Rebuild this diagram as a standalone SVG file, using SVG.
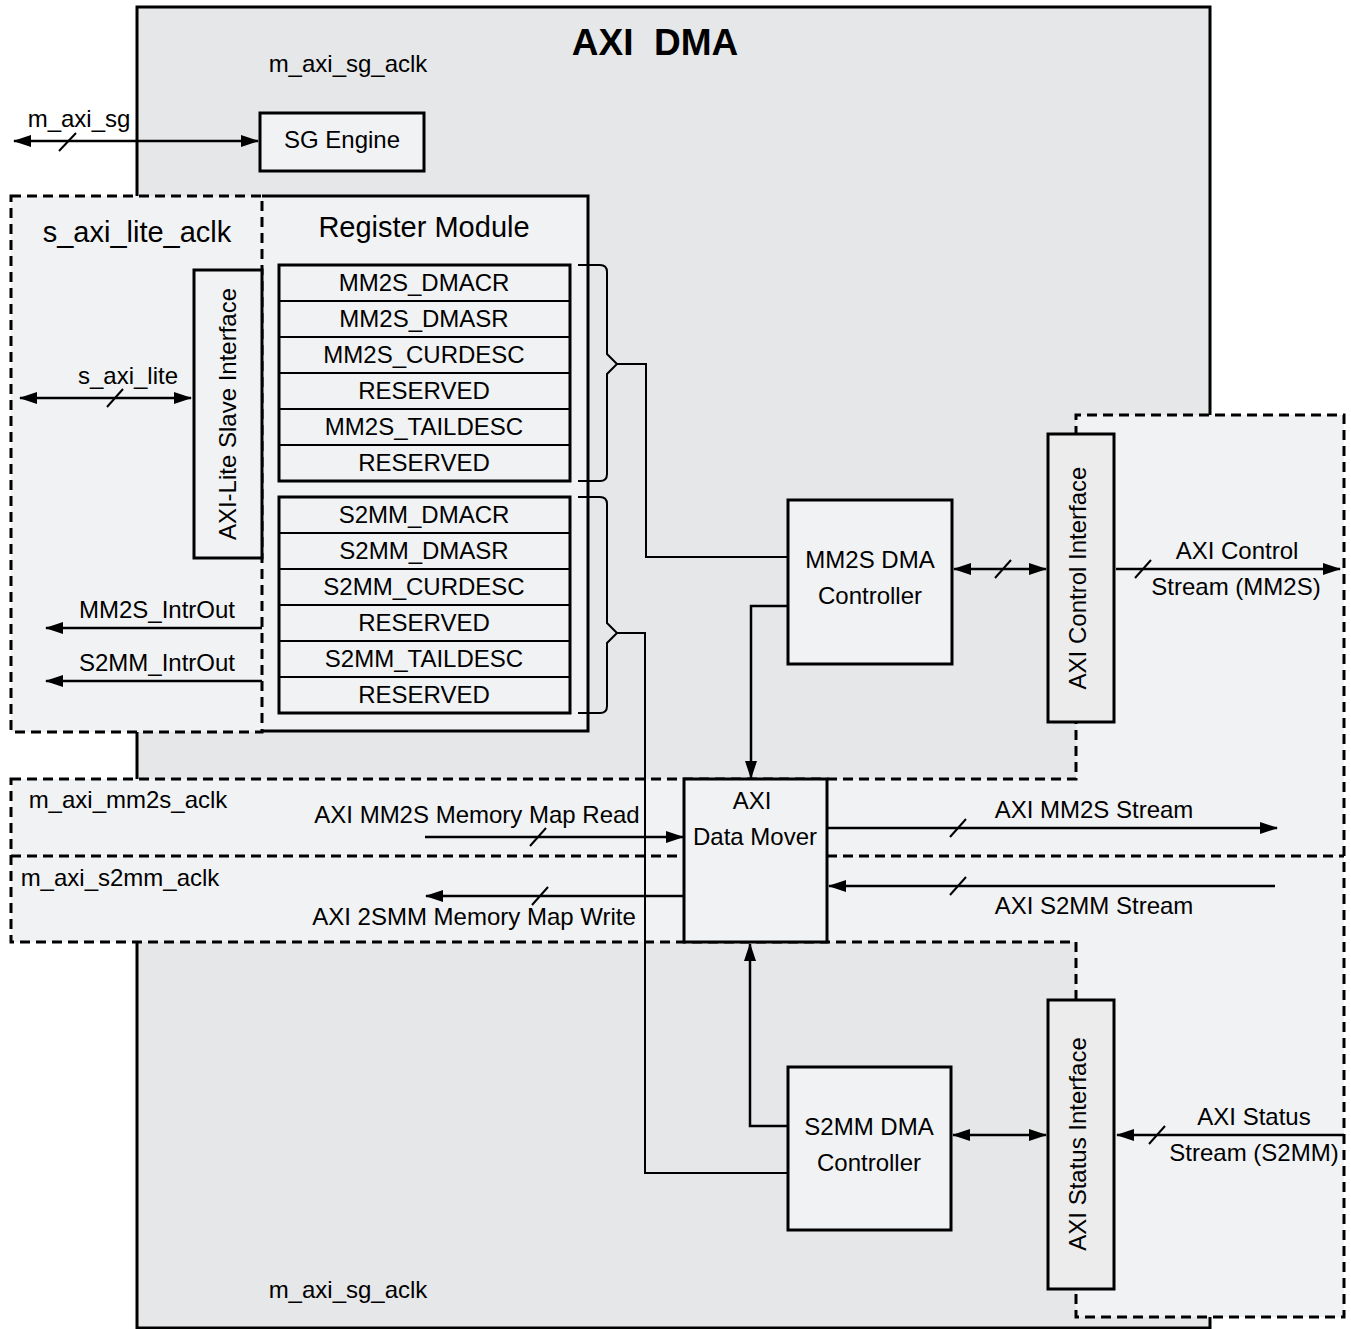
<svg xmlns="http://www.w3.org/2000/svg" width="1351" height="1329" viewBox="0 0 1351 1329">
<style>
text{font-family:"Liberation Sans",Arial,sans-serif;font-size:24px;fill:#000;text-anchor:middle}
.big{font-size:29px}
.title{font-size:37px;font-weight:bold;white-space:pre}
.box{fill:#f1f2f4;stroke:#000;stroke-width:3}
.ifbox{fill:#ececed;stroke:#000;stroke-width:3}
.row{fill:#f1f2f4;stroke:#000;stroke-width:2}
.dash{fill:none;stroke:#000;stroke-width:3;stroke-dasharray:10 6}
.ln{fill:none;stroke:#000;stroke-width:2.5}
.thin{fill:none;stroke:#000;stroke-width:2}
.sl{stroke:#000;stroke-width:2}
</style>
<defs>
<marker id="ah" viewBox="0 0 18 12" refX="17" refY="6" markerWidth="18" markerHeight="12" markerUnits="userSpaceOnUse" orient="auto-start-reverse">
<path d="M0,0 L18,6 L0,12 Z" fill="#000"/>
</marker>
</defs>

<g id="axi-dma">
<rect x="137" y="7" width="1073" height="1321" fill="#e6e7e8" stroke="#000" stroke-width="3"/>
<text class="title" x="655" y="55">AXI  DMA</text>
<text x="348" y="72">m_axi_sg_aclk</text>
<text x="348" y="1298">m_axi_sg_aclk</text>
</g>

<g id="regions">
<rect x="11" y="196" width="251" height="536" fill="#f1f2f4"/>
<polygon points="11,779 1076,779 1076,415 1344,415 1344,1317 1076,1317 1076,942 11,942" fill="#f1f2f4"/>
<rect x="262" y="196" width="326" height="535" fill="#f1f2f4"/>
<path d="M262,196 H588 V731 H262" fill="none" stroke="#000" stroke-width="3"/>
<path class="dash" d="M11,196 H262 V732 H11 Z"/>
<path class="dash" d="M11,779 H1076 V415 H1344 V1317 H1076 V942 H11 Z M11,856 H1344"/>
<text class="big" x="137" y="242">s_axi_lite_aclk</text>
<text x="128" y="808">m_axi_mm2s_aclk</text>
<text x="120" y="886">m_axi_s2mm_aclk</text>
</g>

<g id="sg-engine">
<rect class="box" x="260" y="113" width="164" height="58"/>
<text x="342" y="148">SG Engine</text>
</g>

<g id="axi-lite-slave-interface">
<rect class="box" x="194" y="270" width="68" height="288"/>
<text transform="translate(228,414) rotate(-90)" y="8">AXI-Lite Slave Interface</text>
</g>

<g id="register-module">
<text class="big" x="424" y="237">Register Module</text>
<rect class="row" x="279" y="265" width="291" height="36"/>
<rect class="row" x="279" y="301" width="291" height="36"/>
<rect class="row" x="279" y="337" width="291" height="36"/>
<rect class="row" x="279" y="373" width="291" height="36"/>
<rect class="row" x="279" y="409" width="291" height="36"/>
<rect class="row" x="279" y="445" width="291" height="36"/>
<rect x="279" y="265" width="291" height="216" fill="none" stroke="#000" stroke-width="3"/>
<text x="424" y="291">MM2S_DMACR</text>
<text x="424" y="327">MM2S_DMASR</text>
<text x="424" y="363">MM2S_CURDESC</text>
<text x="424" y="399">RESERVED</text>
<text x="424" y="435">MM2S_TAILDESC</text>
<text x="424" y="471">RESERVED</text>
<rect class="row" x="279" y="497" width="291" height="36"/>
<rect class="row" x="279" y="533" width="291" height="36"/>
<rect class="row" x="279" y="569" width="291" height="36"/>
<rect class="row" x="279" y="605" width="291" height="36"/>
<rect class="row" x="279" y="641" width="291" height="36"/>
<rect class="row" x="279" y="677" width="291" height="36"/>
<rect x="279" y="497" width="291" height="216" fill="none" stroke="#000" stroke-width="3"/>
<text x="424" y="523">S2MM_DMACR</text>
<text x="424" y="559">S2MM_DMASR</text>
<text x="424" y="595">S2MM_CURDESC</text>
<text x="424" y="631">RESERVED</text>
<text x="424" y="667">S2MM_TAILDESC</text>
<text x="424" y="703">RESERVED</text>
<path class="thin" d="M578,265 H600 Q607,265 607,272 V354 L617,364 L607,374 V474 Q607,481 600,481 H578"/>
<path class="thin" d="M578,497 H600 Q607,497 607,504 V623 L617,633 L607,643 V706 Q607,713 600,713 H578"/>
</g>

<g id="mm2s-dma-controller">
<rect class="box" x="788" y="500" width="164" height="164"/>
<text x="870" y="568">MM2S DMA</text>
<text x="870" y="604">Controller</text>
</g>

<g id="s2mm-dma-controller">
<rect class="box" x="788" y="1067" width="163" height="163"/>
<text x="869" y="1135">S2MM DMA</text>
<text x="869" y="1171">Controller</text>
</g>

<g id="axi-control-interface">
<rect class="ifbox" x="1048" y="434" width="66" height="288"/>
<text transform="translate(1078,578) rotate(-90)" y="8">AXI Control Interface</text>
</g>

<g id="axi-status-interface">
<rect class="ifbox" x="1048" y="1000" width="66" height="289"/>
<text transform="translate(1078,1144) rotate(-90)" y="8">AXI Status Interface</text>
</g>

<g id="axi-data-mover">
<rect class="box" x="684" y="779" width="143" height="163"/>
<text x="752" y="809">AXI</text>
<text x="755" y="845">Data Mover</text>
</g>

<g id="connectors">
<line class="ln" x1="14" y1="141" x2="258" y2="141" marker-start="url(#ah)" marker-end="url(#ah)"/>
<line class="sl" x1="59" y1="151" x2="76" y2="133"/>
<text x="79" y="127">m_axi_sg</text>

<line class="ln" x1="20" y1="398" x2="191" y2="398" marker-start="url(#ah)" marker-end="url(#ah)"/>
<line class="sl" x1="107" y1="407" x2="123" y2="389"/>
<text x="128" y="384">s_axi_lite</text>

<line class="ln" x1="262" y1="628" x2="46" y2="628" marker-end="url(#ah)"/>
<text x="157" y="618">MM2S_IntrOut</text>
<line class="ln" x1="262" y1="681" x2="46" y2="681" marker-end="url(#ah)"/>
<text x="157" y="671">S2MM_IntrOut</text>

<path class="thin" d="M617,364 H646 V557 H788"/>
<path class="thin" d="M617,633 H645 V1173 H788"/>

<path class="ln" d="M788,606 H751 V778" marker-end="url(#ah)"/>
<path class="ln" d="M788,1126 H750 V944" marker-end="url(#ah)"/>

<line class="ln" x1="954" y1="569" x2="1046" y2="569" marker-start="url(#ah)" marker-end="url(#ah)"/>
<line class="sl" x1="995" y1="578" x2="1011" y2="560"/>

<line class="ln" x1="1116" y1="569" x2="1340" y2="569" marker-end="url(#ah)"/>
<line class="sl" x1="1135" y1="578" x2="1151" y2="560"/>
<text x="1237" y="559">AXI Control</text>
<text x="1236" y="595">Stream (MM2S)</text>

<line class="ln" x1="425" y1="837" x2="683" y2="837" marker-end="url(#ah)"/>
<line class="sl" x1="530" y1="846" x2="546" y2="828"/>
<text x="477" y="823">AXI MM2S Memory Map Read</text>

<line class="ln" x1="683" y1="896" x2="426" y2="896" marker-end="url(#ah)"/>
<line class="sl" x1="532" y1="905" x2="548" y2="887"/>
<text x="474" y="925">AXI 2SMM Memory Map Write</text>

<line class="ln" x1="828" y1="828" x2="1277" y2="828" marker-end="url(#ah)"/>
<line class="sl" x1="950" y1="837" x2="966" y2="819"/>
<text x="1094" y="818">AXI MM2S Stream</text>

<line class="ln" x1="1275" y1="886" x2="829" y2="886" marker-end="url(#ah)"/>
<line class="sl" x1="950" y1="895" x2="966" y2="877"/>
<text x="1094" y="914">AXI S2MM Stream</text>

<line class="ln" x1="953" y1="1135" x2="1046" y2="1135" marker-start="url(#ah)" marker-end="url(#ah)"/>

<line class="ln" x1="1344" y1="1135" x2="1117" y2="1135" marker-end="url(#ah)"/>
<line class="sl" x1="1149" y1="1144" x2="1165" y2="1126"/>
<text x="1254" y="1125">AXI Status</text>
<text x="1254" y="1161">Stream (S2MM)</text>
</g>
</svg>
